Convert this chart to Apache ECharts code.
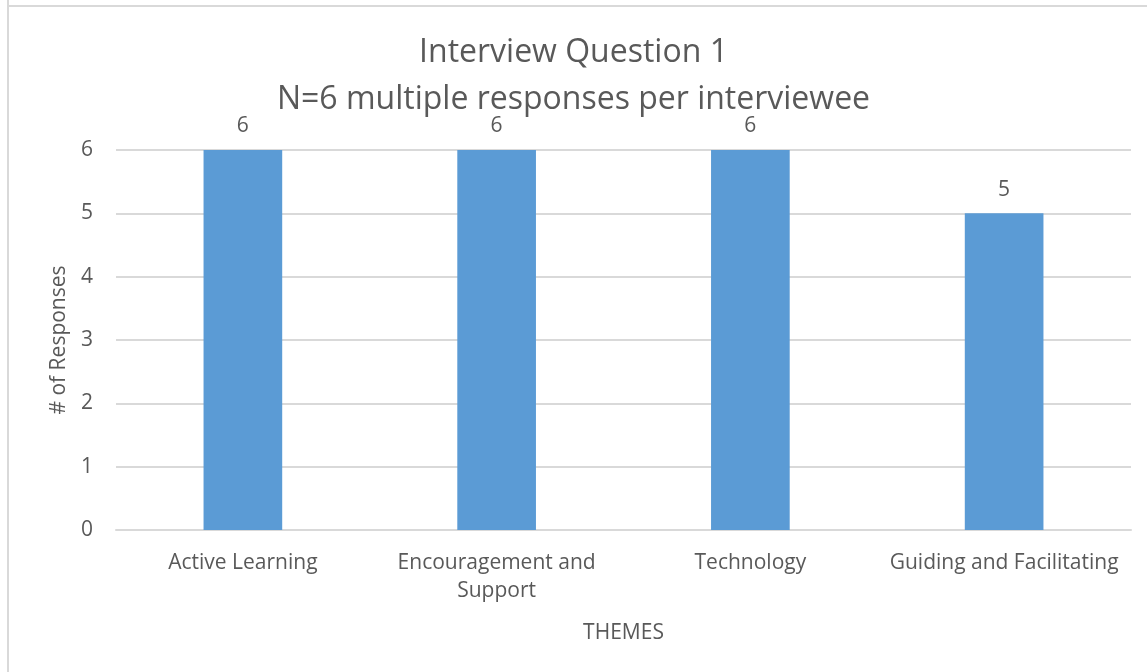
<!DOCTYPE html>
<html>
<head>
<meta charset="utf-8">
<script src="https://cdn.jsdelivr.net/npm/echarts@6/dist/echarts.min.js"></script>
<style>
  html, body { margin: 0; padding: 0; background: #fff; }
  #chart { width: 1147px; height: 672px; }
</style>
</head>
<body>
<div id="chart"></div>
<script>
// Themes from interview question 1
const categories = ['Active Learning', 'Encouragement and\nSupport', 'Technology', 'Guiding and Facilitating'];
const responses = [6, 6, 6, 5];
const yTicks = [0, 1, 2, 3, 4, 5, 6];

const textColor = '#595959';
const font = '"Open Sans", "Noto Sans", sans-serif';

const chart = echarts.init(document.getElementById('chart'), null, { renderer: 'canvas' });
chart.setOption({
  backgroundColor: '#ffffff',
  animation: false,
  textStyle: { fontFamily: font, color: textColor },
  title: {
    text: 'Interview Question 1\nN=6 multiple responses per interviewee',
    left: 'center',
    top: 24,
    textStyle: { fontFamily: font, fontSize: 32, fontWeight: 'normal', color: textColor, lineHeight: 47 }
  },
  graphic: [
    { type: 'line', shape: { x1: 8, y1: 0, x2: 8, y2: 672 }, style: { stroke: '#d9d9d9', lineWidth: 2 } },
    { type: 'line', shape: { x1: 8, y1: 6, x2: 1147, y2: 6 }, style: { stroke: '#d9d9d9', lineWidth: 2 } }
  ],
  grid: { left: 116, right: 16, top: 150, bottom: 142, containLabel: false },
  xAxis: {
    type: 'category',
    data: categories,
    name: 'THEMES',
    nameLocation: 'middle',
    nameGap: 93,
    nameTextStyle: { fontFamily: font, fontSize: 21, color: textColor },
    axisLine: { show: true, lineStyle: { color: '#d9d9d9', width: 2 } },
    axisTick: { show: false },
    axisLabel: { fontFamily: font, fontSize: 21, color: textColor, margin: 19, lineHeight: 28, interval: 0 }
  },
  yAxis: {
    type: 'value',
    min: yTicks[0],
    max: yTicks[yTicks.length - 1],
    interval: 1,
    name: '# of Responses',
    nameLocation: 'middle',
    nameGap: 46,
    nameTextStyle: { fontFamily: font, fontSize: 21, color: textColor },
    axisLine: { show: false },
    axisTick: { show: false },
    axisLabel: { fontFamily: font, fontSize: 21, color: textColor, margin: 23 },
    splitLine: { lineStyle: { color: '#d9d9d9', width: 2 } }
  },
  series: [{
    type: 'bar',
    data: responses,
    barWidth: '31%',
    itemStyle: { color: '#5b9bd5' },
    label: {
      show: true,
      position: 'top',
      distance: 13,
      fontFamily: font,
      fontSize: 21,
      color: textColor
    }
  }]
});
</script>
</body>
</html>
